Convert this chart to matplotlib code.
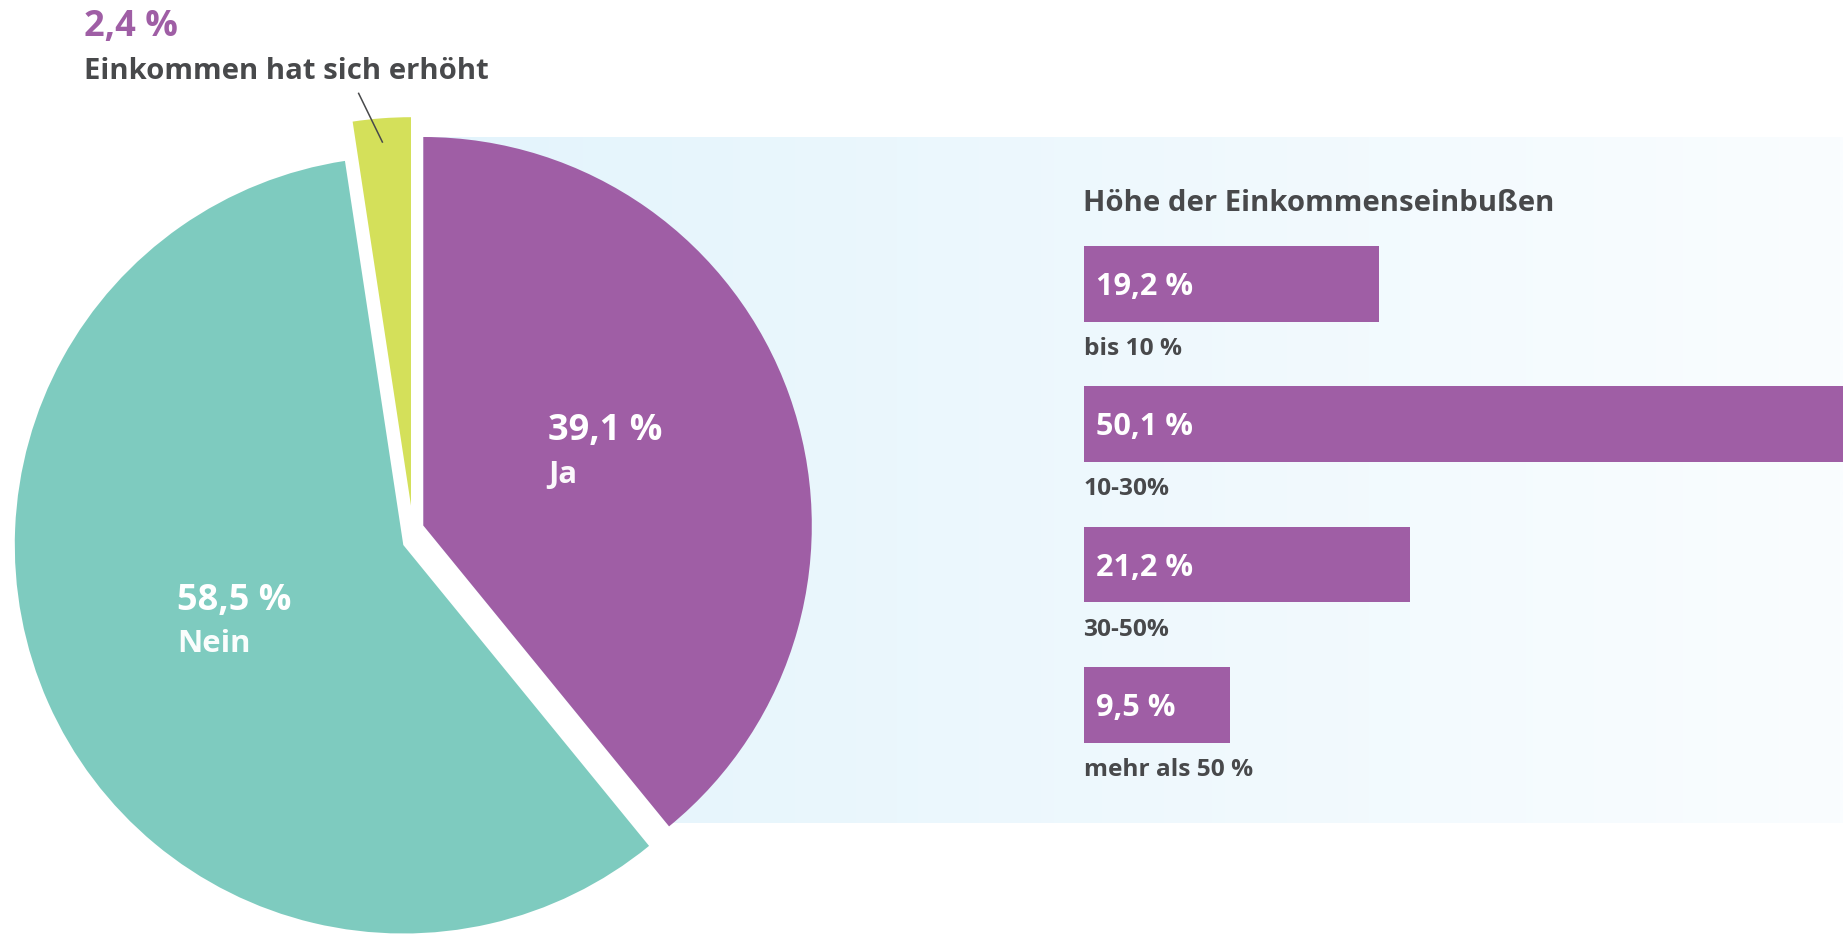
import os
import numpy as np
import matplotlib
matplotlib.use("Agg")
import matplotlib.pyplot as plt
from matplotlib import font_manager as fm
from matplotlib.patches import Wedge

# ---------------- data ----------------
pie_labels = ["Ja", "Nein", "Einkommen hat sich erhöht"]
pie_values = [39.1, 58.5, 2.4]
bar_categories = ["bis 10 %", "10-30%", "30-50%", "mehr als 50 %"]
bar_values = [19.2, 50.1, 21.2, 9.5]
bar_title = "Höhe der Einkommenseinbußen"

# ---------------- style ----------------
W, H = 1843, 935
PURPLE = "#9f5ea5"
TEAL = "#7ecbbf"
YELLOW = "#d4e05a"
GRAY = "#48494b"
plt.rcParams["font.family"] = ["Open Sans", "DejaVu Sans"]


def _find(pred):
    for f in fm.fontManager.ttflist:
        b = os.path.basename(f.fname).lower()
        if b.startswith("opensans") and "cond" not in b and "italic" not in b and pred(b):
            return f.fname
    return None


BOLD_FILE = _find(lambda b: "-bold." in b)


def fp(size):
    if BOLD_FILE:
        return fm.FontProperties(fname=BOLD_FILE, size=size)
    return fm.FontProperties(family=["Open Sans", "DejaVu Sans"],
                             weight="bold", size=size)


def fmt(v):
    return f"{v:.1f}".replace(".", ",") + " %"


def Y(py):
    return H - py


fig = plt.figure(figsize=(W / 100, H / 100), dpi=100)
ax = fig.add_axes([0, 0, 1, 1])
ax.set_xlim(0, W)
ax.set_ylim(0, H)
ax.axis("off")

# gradient background panel
grad = np.linspace(0, 1, 256)
c0 = np.array([227, 244, 252]) / 255
c1 = np.array([250, 253, 255]) / 255
img = (c0[None, :] * (1 - grad[:, None]) + c1[None, :] * grad[:, None])[None, :, :]
ax.imshow(img, extent=[423, W, Y(823), Y(137)], aspect="auto", zorder=0,
          interpolation="bilinear")

# pie
R = 388.5
wedges, _ = ax.pie(pie_values, colors=[PURPLE, TEAL, YELLOW], startangle=90,
                   counterclock=False, radius=R, center=(0, 0),
                   wedgeprops=dict(linewidth=0))
centers = [(423.3, Y(525.5)), (403.3, Y(545.0)), (411.0, Y(505.7))]
for w, c in zip(wedges, centers):
    w.set_center(c)
    w.set_zorder(2)

# white mask so the gap between slices stays white over the panel
pw = wedges[0]
ax.add_patch(Wedge(centers[0], R * 1.02, pw.theta2 - 360 + 1e-6 if pw.theta2 > pw.theta1 else pw.theta2,
                   pw.theta1, color="white", lw=0, zorder=1))

ax.set_xlim(0, W)
ax.set_ylim(0, H)
ax.set_aspect("equal")

# pie labels
t_ja_v = ax.text(548, Y(440), fmt(pie_values[0]), color="white",
                 fontproperties=fp(25), ha="left", va="baseline", zorder=5)
t_ja = ax.text(548, Y(483), pie_labels[0], color="white",
               fontproperties=fp(21), ha="left", va="baseline", zorder=5,
               alpha=0.97)
t_nein_v = ax.text(177, Y(610), fmt(pie_values[1]), color="white",
                   fontproperties=fp(25), ha="left", va="baseline", zorder=5)
t_nein = ax.text(177, Y(652), pie_labels[1], color="white",
                 fontproperties=fp(21), ha="left", va="baseline", zorder=5,
                 alpha=0.97)
t_up_v = ax.text(84, Y(36), fmt(pie_values[2]), color=PURPLE,
                 fontproperties=fp(25), ha="left", va="baseline", zorder=5)
t_up = ax.text(84, Y(79.3), pie_labels[2], color=GRAY,
               fontproperties=fp(20), ha="left", va="baseline", zorder=5)
ax.plot([358.3, 382.7], [Y(92.7), Y(142.7)], color=GRAY, lw=1.1, zorder=6,
        solid_capstyle="butt")

# bar title
t_title = ax.text(1083, Y(210.7), bar_title, color=GRAY, fontproperties=fp(20),
                  ha="left", va="baseline", zorder=5)

# bars axes
px_per_pct = 15.41
left_px = 1083.5
c0y = 283.85
pitch = 140.3
top_px = c0y - 0.5 * pitch
bot_px = c0y + 3.5 * pitch
bax = fig.add_axes([left_px / W, (H - bot_px) / H, (W - left_px) / W,
                    (bot_px - top_px) / H])
bax.set_facecolor("none")
bax.patch.set_alpha(0)
bax.set_xlim(0, (W - left_px) / px_per_pct)
bax.set_ylim(3.5, -0.5)
bax.axis("off")
ypos = np.arange(len(bar_values))
bax.barh(ypos, bar_values, height=75.7 / pitch, color=PURPLE, linewidth=0)
val_texts, cat_texts = [], []
for i, (cat, v) in enumerate(zip(bar_categories, bar_values)):
    val_texts.append(bax.text(0.8, i + 11.2 / pitch, fmt(v), color="white",
                              fontproperties=fp(21), ha="left", va="baseline"))
    cat_texts.append(bax.text(0.0, i + 71.2 / pitch, cat, color=GRAY,
                              fontproperties=fp(15), ha="left", va="baseline",
                              clip_on=False))

# match text sizes to the ink widths measured on the reference (pixels)
renderer = fig.canvas.get_renderer()


def fit(texts, targets, pad=2.0):
    ratios = [(tw + pad) / t.get_window_extent(renderer).width
              for t, tw in zip(texts, targets)]
    r = float(np.mean(ratios))
    for t in texts:
        t.set_fontsize(t.get_fontsize() * r)


fit([t_ja_v, t_nein_v, t_up_v], [110.6, 114.3, 92.3])
fit([t_ja, t_nein], [28.6, 67.9])
fit([t_up, t_title], [402, 470])
fit(val_texts, [94.3, 92.7, 96.3, 79.0])
fit(cat_texts, [94.3, 88.0, 87.7, 167.0], pad=0.0)

fig.savefig("out.png", dpi=100, facecolor="white")
